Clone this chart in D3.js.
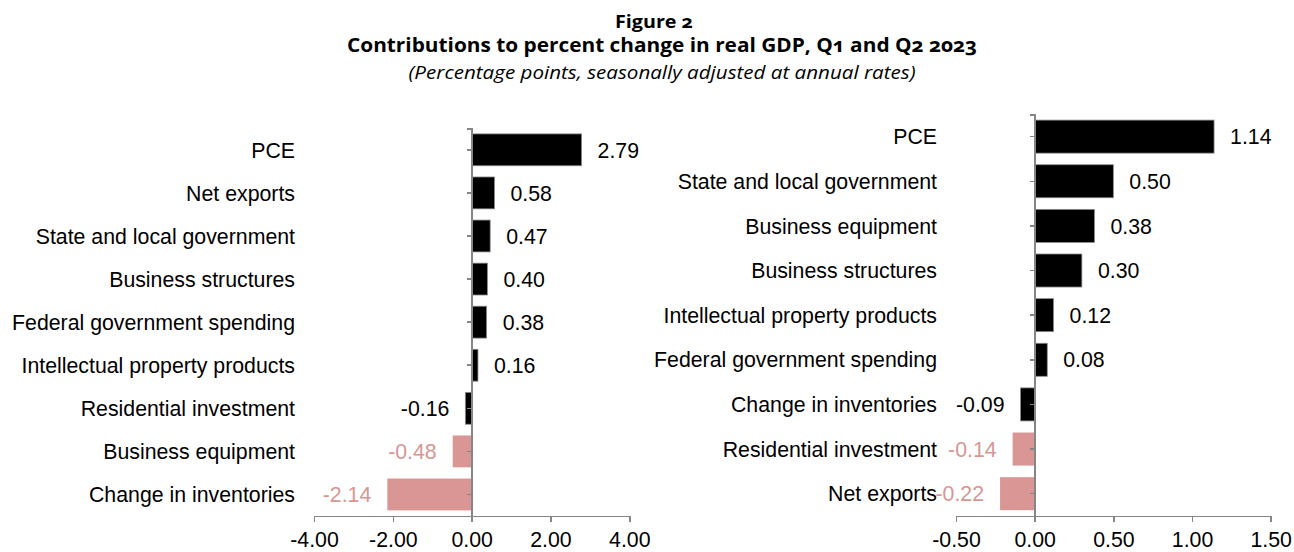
<!DOCTYPE html>
<html>
<head>
<meta charset="utf-8">
<script src="https://cdn.jsdelivr.net/npm/d3@7"></script>
<style>
  html, body { margin: 0; padding: 0; background: #ffffff; }
  svg { display: block; }
  .title { font-family: "Open Sans", "Noto Sans", sans-serif; fill: #000; font-variant-numeric: oldstyle-nums; }
  .lbl { font-family: "Liberation Sans", Arial, sans-serif; font-size: 21.3px; }
  .axis path, .axis line { stroke: #868686; stroke-width: 1.5; shape-rendering: crispEdges; }
</style>
</head>
<body>
<script>
// Contributions to percent change in real GDP (percentage points, SAAR)
const q1Categories = [
  "PCE", "Net exports", "State and local government", "Business structures",
  "Federal government spending", "Intellectual property products",
  "Residential investment", "Business equipment", "Change in inventories"
];
const q1Values = [2.79, 0.58, 0.47, 0.40, 0.38, 0.16, -0.16, -0.48, -2.14];
const q1Flagged = [false, false, false, false, false, false, false, true, true];
const q1Ticks = [-4, -2, 0, 2, 4];

const q2Categories = [
  "PCE", "State and local government", "Business equipment", "Business structures",
  "Intellectual property products", "Federal government spending",
  "Change in inventories", "Residential investment", "Net exports"
];
const q2Values = [1.14, 0.50, 0.38, 0.30, 0.12, 0.08, -0.09, -0.14, -0.22];
const q2Flagged = [false, false, false, false, false, false, false, true, true];
const q2Ticks = [-0.5, 0, 0.5, 1, 1.5];

const W = 1294, H = 552;
const BAR = "#000000", FLAG = "#d99694";
// plain hyphen-minus for negative numbers
const fmt = d3.formatLocale({ decimal: ".", thousands: ",", grouping: [3], currency: ["$", ""], minus: "-" }).format(".2f");

const svg = d3.select("body").append("svg").attr("width", W).attr("height", H);

// Heading
svg.append("text").attr("class", "title")
  .attr("x", 654).attr("y", 28).attr("text-anchor", "middle")
  .style("font-size", "18px").style("font-weight", 700)
  .attr("textLength", 78).attr("lengthAdjust", "spacingAndGlyphs")
  .text("Figure 2");
svg.append("text").attr("class", "title")
  .attr("x", 662).attr("y", 52).attr("text-anchor", "middle")
  .style("font-size", "19px").style("font-weight", 700)
  .attr("textLength", 630).attr("lengthAdjust", "spacingAndGlyphs")
  .text("Contributions to percent change in real GDP, Q1 and Q2 2023");
svg.append("text").attr("class", "title")
  .attr("x", 662).attr("y", 79).attr("text-anchor", "middle")
  .style("font-size", "18px").style("font-style", "italic")
  .attr("textLength", 507).attr("lengthAdjust", "spacingAndGlyphs")
  .text("(Percentage points, seasonally adjusted at annual rates)");

function panel(cfg) {
  const { cats, vals, flags, ticks, xRange, yRange, labelRight } = cfg;
  const x = d3.scaleLinear().domain(d3.extent(ticks)).range(xRange);
  const y = d3.scaleBand().domain(cats).range(yRange).paddingInner(0.26).paddingOuter(0.13);
  const g = svg.append("g");
  const rows = cats.map((c, i) => ({ c, v: vals[i], f: flags[i] }));

  // bars
  g.selectAll("rect.bar").data(rows).join("rect").attr("class", "bar")
    .attr("x", d => x(Math.min(0, d.v)))
    .attr("width", d => Math.abs(x(d.v) - x(0)))
    .attr("y", d => y(d.c))
    .attr("height", y.bandwidth())
    .attr("fill", d => d.f ? FLAG : BAR)
    .attr("stroke", d => d.f ? "none" : "#8c8c8c")
    .attr("stroke-width", 0.8);

  // category axis through zero
  const ya = g.append("g").attr("class", "axis")
    .attr("transform", `translate(${x(0)},0)`)
    .call(d3.axisLeft(y).tickSizeInner(5).tickSizeOuter(5).tickFormat(""));
  ya.selectAll("text").remove();

  // value axis
  const xa = g.append("g").attr("class", "axis")
    .attr("transform", `translate(0,${yRange[1]})`)
    .call(d3.axisBottom(x).tickValues(ticks).tickSizeInner(6).tickSizeOuter(6).tickFormat(fmt));
  xa.selectAll("text").attr("class", "lbl").attr("fill", "#000")
    .attr("y", 0).attr("dy", 0).attr("transform", "translate(0,31)");

  // category labels
  g.selectAll("text.cat").data(rows).join("text").attr("class", "lbl cat")
    .attr("x", labelRight)
    .attr("y", d => y(d.c) + y.bandwidth() / 2)
    .attr("dy", "0.36em")
    .attr("text-anchor", "end")
    .attr("fill", "#000")
    .text(d => d.c);

  // value labels
  g.selectAll("text.val").data(rows).join("text").attr("class", "lbl val")
    .attr("x", d => d.v >= 0 ? x(d.v) + 16 : x(d.v) - 16)
    .attr("y", d => y(d.c) + y.bandwidth() / 2)
    .attr("dy", "0.36em")
    .attr("text-anchor", d => d.v >= 0 ? "start" : "end")
    .attr("fill", d => d.f ? FLAG : "#000")
    .text(d => fmt(d.v));
}

panel({ cats: q1Categories, vals: q1Values, flags: q1Flagged, ticks: q1Ticks,
        xRange: [314, 629.3], yRange: [128.3, 516], labelRight: 295 });
panel({ cats: q2Categories, vals: q2Values, flags: q2Flagged, ticks: q2Ticks,
        xRange: [956, 1270.7], yRange: [114.3, 516], labelRight: 937 });
</script>
</body>
</html>
